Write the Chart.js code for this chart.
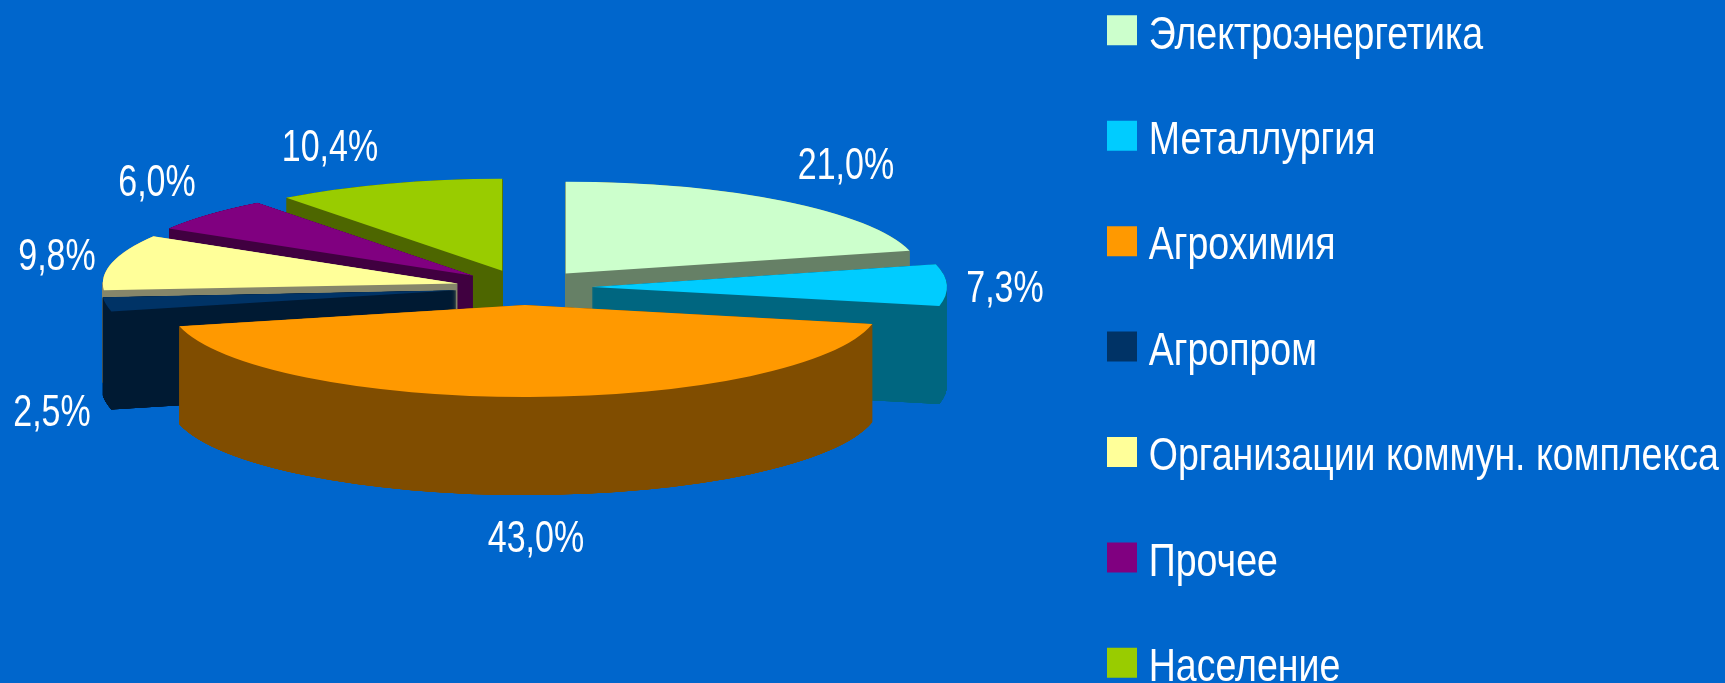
<!DOCTYPE html>
<html>
<head>
<meta charset="utf-8">
<title>Pie</title>
<script src="https://cdn.jsdelivr.net/npm/chart.js@4"></script>
<style>
    html, body { margin: 0; padding: 0; background: #0066cc; overflow: hidden; }
    #wrap { width: 1725px; height: 683px; }
</style>
</head>
<body>
<div id="wrap"><canvas id="pieChart"></canvas></div>
<script>
const categories = ["Электроэнергетика", "Металлургия", "Агрохимия", "Агропром", "Организации коммун. комплекса", "Прочее", "Население"];
const shares = [21.0, 7.3, 43.0, 2.5, 9.8, 6.0, 10.4];
const topColors = ["#ccffcc", "#00ccff", "#ff9900", "#003366", "#ffff99", "#800080", "#99cc00"];
const sideColors = ["#668066", "#006680", "#804d00", "#001a33", "#86866a", "#400040", "#4d6600"];

// where the percent labels sit on the page
const labelSpots = [[846, 167], [1005, 290], [536, 540], [52, 414], [57, 258], [157, 184], [330, 149]];

const pie3d = { x: 524, y: 287.5, tilt: 0.259, depth: 98 };
const LABEL_STRETCH = 1.28;
const LEGEND_STRETCH = 1.23;

function drawArcAt(ctx, arc, color, drop) {
    const opts = arc.options;
    const mid = (arc.startAngle + arc.endAngle) / 2;
    arc.options = Object.assign({}, opts, { backgroundColor: color, offset: 0 });
    ctx.save();
    ctx.translate(pie3d.x, pie3d.y + drop);
    ctx.scale(1, pie3d.tilt);
    ctx.translate(Math.cos(mid) * opts.offset, Math.sin(mid) * opts.offset);
    ctx.translate(-arc.x, -arc.y);
    arc.draw(ctx);
    ctx.restore();
    arc.options = opts;
}

function drawWall(chart, arc, color) {
    // stack on a spare canvas, then recolour, so the many layers leave no banding
    const spare = document.createElement("canvas");
    spare.width = chart.width;
    spare.height = chart.height;
    const sctx = spare.getContext("2d");
    for (let d = pie3d.depth; d > 0; d -= 0.25) {
        drawArcAt(sctx, arc, color, d);
    }
    // harden the thin tip of the slice
    sctx.drawImage(spare, 0, 0);
    sctx.drawImage(spare, 0, 0);
    sctx.globalCompositeOperation = "source-in";
    sctx.fillStyle = color;
    sctx.fillRect(0, 0, spare.width, spare.height);
    chart.ctx.drawImage(spare, 0, 0);
}

const tiltedPie = {
    id: "tiltedPie",
    beforeDraw(chart) {
        // legend text in the picture is taller than it is wide
        const legend = chart.legend;
        if (legend._stretched) return;
        const draw = legend.draw;
        legend._stretched = true;
        legend.draw = function () {
            const ctx = chart.ctx;
            const fillText = ctx.fillText;
            // text sits closer to the box than the legend would put it
            ctx.fillText = function (t, x, y, w) { fillText.call(ctx, t, x - 7, y + 4.5, w); };
            ctx.save();
            ctx.translate(1107 - (legend.left + legend.options.labels.padding), -52);
            ctx.scale(1, LEGEND_STRETCH);
            draw.apply(legend, arguments);
            ctx.restore();
            delete ctx.fillText;
        };
    },
    beforeDatasetDraw(chart, args) {
        const ctx = chart.ctx;
        const arcs = args.meta.data;
        // back slices first
        const order = arcs.map((a, i) => i).sort((a, b) => {
            const ma = (arcs[a].startAngle + arcs[a].endAngle) / 2;
            const mb = (arcs[b].startAngle + arcs[b].endAngle) / 2;
            return Math.sin(ma) - Math.sin(mb);
        });
        order.forEach(i => {
            drawWall(chart, arcs[i], sideColors[i]);
            drawArcAt(ctx, arcs[i], topColors[i], 0);
        });
        return false;
    },
    afterDraw(chart) {
        const ctx = chart.ctx;
        ctx.save();
        ctx.fillStyle = "#ffffff";
        ctx.font = "34px 'Liberation Sans'";
        ctx.textAlign = "center";
        ctx.textBaseline = "middle";
        shares.forEach((v, i) => {
            ctx.save();
            ctx.translate(labelSpots[i][0], labelSpots[i][1]);
            ctx.scale(1, LABEL_STRETCH);
            ctx.fillText(v.toFixed(1).replace(".", ",") + "%", 0, 0);
            ctx.restore();
        });
        ctx.restore();
    }
};

new Chart(document.getElementById("pieChart"), {
    type: "pie",
    data: {
        labels: categories,
        datasets: [{
            data: shares,
            backgroundColor: topColors,
            borderWidth: 0,
            offset: 68,
            radius: 355
        }]
    },
    options: {
        responsive: true,
        maintainAspectRatio: false,
        animation: false,
        plugins: {
            tooltip: { enabled: false },
            legend: {
                position: "right",
                align: "start",
                labels: {
                    color: "#ffffff",
                    font: { family: "'Liberation Sans'", size: 37.5 },
                    boxWidth: 30,
                    boxHeight: 24.4,
                    padding: 48.2
                }
            }
        }
    },
    plugins: [tiltedPie]
});
</script>
</body>
</html>
